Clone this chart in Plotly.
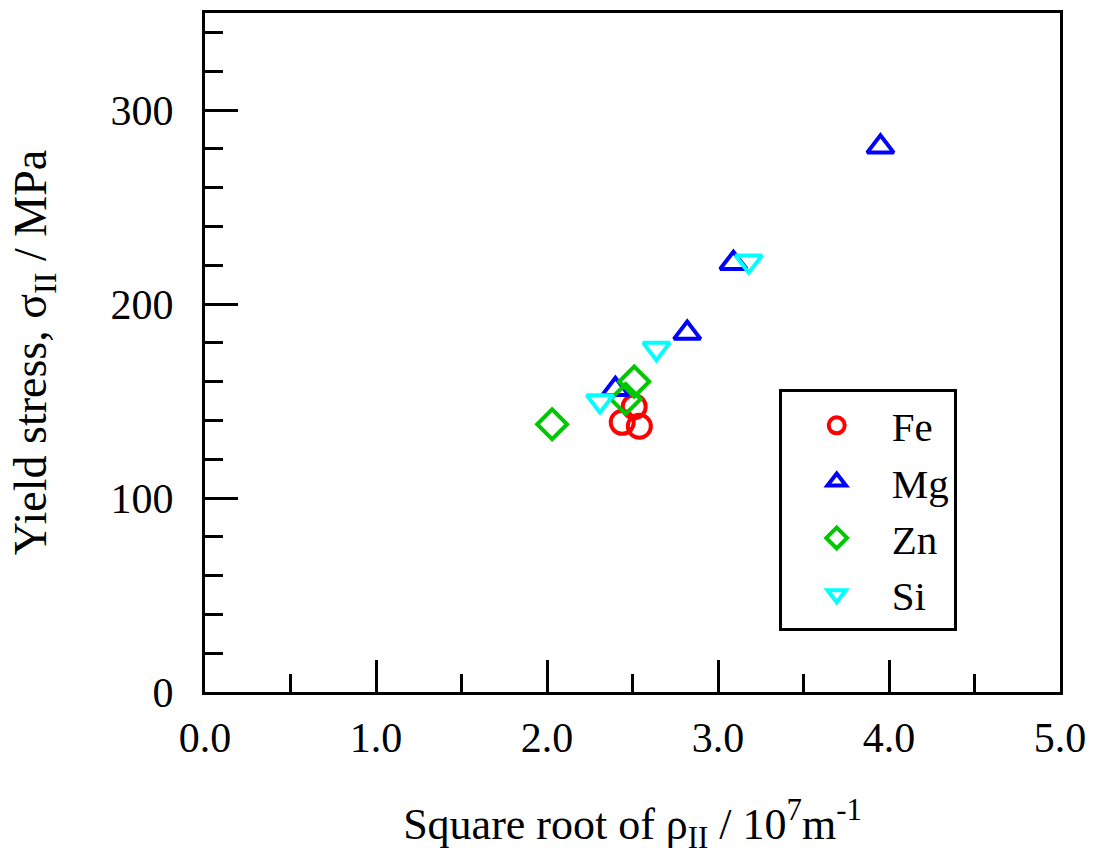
import plotly.graph_objects as go

fe_x = [2.51, 2.44, 2.54]
fe_y = [147, 139, 137]
mg_x = [2.40, 2.82, 3.09, 3.95]
mg_y = [156, 185, 221, 281]
zn_x = [2.03, 2.46, 2.51]
zn_y = [138, 151, 160]
si_x = [2.31, 2.64, 3.18]
si_y = [150, 177, 222]

series = [
    ("Fe", fe_x, fe_y, "circle-open", "#ff0000"),
    ("Mg", mg_x, mg_y, "triangle-up-open", "#0000ff"),
    ("Zn", zn_x, zn_y, "diamond-open", "#00c800"),
    ("Si", si_x, si_y, "triangle-down-open", "#00ffff"),
]

FONT = "Liberation Serif"

fig = go.Figure()
for name, xs, ys, sym, col in series:
    fig.add_trace(go.Scatter(
        x=xs, y=ys, mode="markers", name=name,
        marker=dict(symbol=sym, size=23, color=col, line=dict(color=col, width=4)),
    ))

fig.update_layout(
    width=1096, height=866,
    margin=dict(l=205, r=30, t=10, b=174),
    paper_bgcolor="white", plot_bgcolor="white",
    font=dict(family=FONT, color="black", size=40),
    showlegend=True,
    legend=dict(
        x=0.671, y=0.446, xanchor="left", yanchor="top",
        bgcolor="white", bordercolor="black", borderwidth=3,
        font=dict(family=FONT, size=41, color="black"),
        itemsizing="trace", itemwidth=100,
        tracegroupgap=0,
    ),
)

fig.update_xaxes(
    range=[0, 5], dtick=1, tick0=0, tickformat=".1f",
    showgrid=False, zeroline=False,
    showline=True, linecolor="black", linewidth=3, mirror=True,
    ticks="inside", ticklen=32, tickwidth=3, tickcolor="black",
    minor=dict(dtick=0.5, ticks="inside", ticklen=18, tickwidth=3, tickcolor="black", showgrid=False),
    tickfont=dict(family=FONT, size=42), ticklabelstandoff=7,
    title=dict(text="Square root of ρ<sub>II</sub> / 10<sup>7</sup>m<sup>-1</sup>",
               font=dict(family=FONT, size=44), standoff=48),
)
fig.update_yaxes(
    range=[0, 350], dtick=100, tick0=0,
    showgrid=False, zeroline=False,
    showline=True, linecolor="black", linewidth=3, mirror=True,
    ticks="inside", ticklen=33, tickwidth=3, tickcolor="black",
    minor=dict(dtick=20, ticks="inside", ticklen=18, tickwidth=3, tickcolor="black", showgrid=False),
    tickfont=dict(family=FONT, size=42), ticklabelstandoff=20,
    title=dict(text="Yield stress, σ<sub>II</sub> / MPa",
               font=dict(family=FONT, size=46), standoff=50),
)

fig.write_html("out.html")
